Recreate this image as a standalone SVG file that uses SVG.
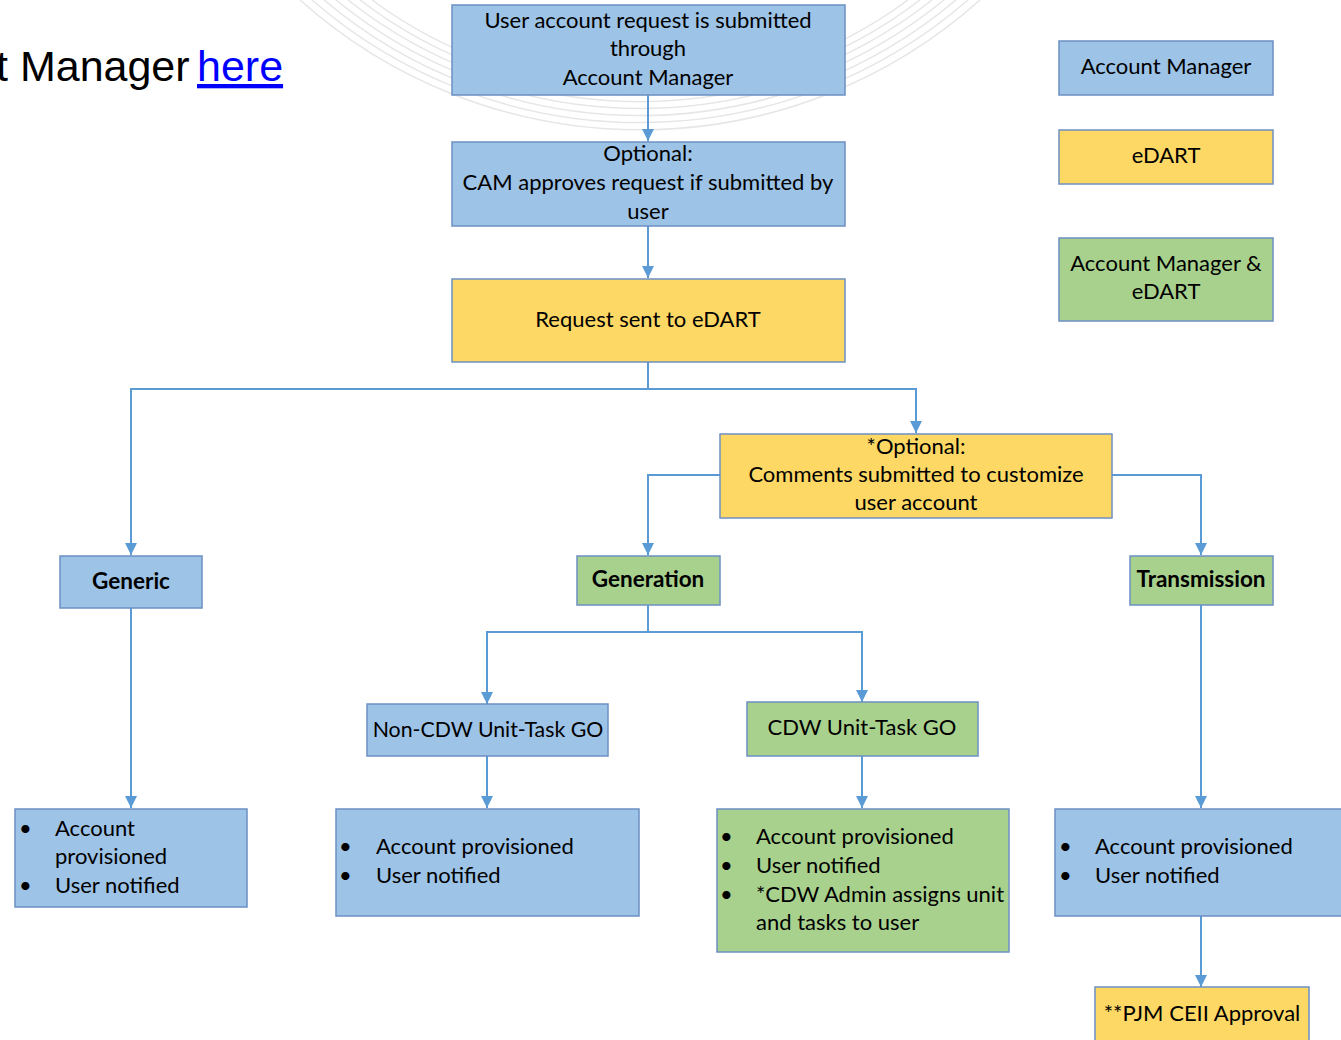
<svg xmlns="http://www.w3.org/2000/svg" width="1341" height="1040" viewBox="0 0 1341 1040">
<defs>
<style>
.b{fill:#9DC3E6;stroke:#6C90C4;stroke-width:1.5}
.y{fill:#FDD865;stroke:#6C90C4;stroke-width:1.5}
.g{fill:#A9D18E;stroke:#6C90C4;stroke-width:1.5}
text{font-family:Lato,"Open Sans","Liberation Sans",sans-serif;font-size:22px;fill:#000}
.c{text-anchor:middle}
.bold{font-weight:bold;font-size:22.5px}
.ln{fill:none;stroke:#5B9BD5;stroke-width:2;marker-end:url(#ah)}
.arc{fill:none;stroke:#e6e6e6;stroke-width:1.5}
.title{font-family:'Liberation Sans',Arial,sans-serif;font-size:43px}
</style>
<marker id="ah" viewBox="0 0 10 10" refX="10" refY="5" markerWidth="6" markerHeight="6" orient="auto" markerUnits="strokeWidth">
<path d="M0,0 L10,5 L0,10 z" fill="#5B9BD5"/>
</marker>
</defs>
<rect width="1341" height="1040" fill="#fff"/>
<g id="background">
<path class="arc" d="M300,0 A510,510 0 0 0 980,0"/>
<path class="arc" d="M312,0 A500,500 0 0 0 968,0"/>
<path class="arc" d="M324,0 A490,490 0 0 0 956,0"/>
<path class="arc" d="M336,0 A480,480 0 0 0 944,0"/>
<path class="arc" d="M348,0 A470,470 0 0 0 932,0"/>
<path class="arc" d="M360,0 A460,460 0 0 0 920,0"/>
<path class="arc" d="M372,0 A450,450 0 0 0 908,0"/>
</g>
<g id="title">
<text class="title" x="-4" y="81">t Manager</text>
<text class="title" x="197" y="81" style="fill:#0000FF;text-decoration:underline">here</text>
</g>
<g id="connectors">
<path class="ln" d="M648,95 V141"/>
<path class="ln" d="M648,226 V278"/>
<path class="ln" d="M648,362 V389 H131 V555"/>
<path class="ln" d="M648,389 H916 V433"/>
<path class="ln" d="M720,475 H648 V555"/>
<path class="ln" d="M1112,475 H1201 V555"/>
<path class="ln" d="M648,605 V632 H487 V704"/>
<path class="ln" d="M648,632 H862 V702"/>
<path class="ln" d="M131,608 V808"/>
<path class="ln" d="M487,756 V808"/>
<path class="ln" d="M862,756 V808"/>
<path class="ln" d="M1201,605 V808"/>
<path class="ln" d="M1201,916 V987"/>
</g>
<g id="n-submit"><rect class="b" x="452" y="5" width="393" height="90"/>
<text class="c" x="648" y="28">User account request is submitted</text>
<text class="c" x="648" y="56">through</text>
<text class="c" x="648" y="85">Account Manager</text></g>
<g id="n-cam"><rect class="b" x="452" y="142" width="393" height="84"/>
<text class="c" x="648" y="161">Optional:</text>
<text class="c" x="648" y="190">CAM approves request if submitted by</text>
<text class="c" x="648" y="219">user</text></g>
<g id="n-edart"><rect class="y" x="452" y="279" width="393" height="83"/>
<text class="c" x="648" y="327">Request sent to eDART</text></g>
<g id="legend-am"><rect class="b" x="1059" y="41" width="214" height="54"/>
<text class="c" x="1166" y="74">Account Manager</text></g>
<g id="legend-edart"><rect class="y" x="1059" y="130" width="214" height="54"/>
<text class="c" x="1166" y="163">eDART</text></g>
<g id="legend-both"><rect class="g" x="1059" y="238" width="214" height="83"/>
<text class="c" x="1166" y="271">Account Manager &amp;</text>
<text class="c" x="1166" y="299">eDART</text></g>
<g id="n-optional"><rect class="y" x="720" y="434" width="392" height="84"/>
<text class="c" x="916" y="454">*Optional:</text>
<text class="c" x="916" y="482">Comments submitted to customize</text>
<text class="c" x="916" y="510">user account</text></g>
<g id="n-generic"><rect class="b" x="60" y="556" width="142" height="52"/>
<text class="c bold" x="131" y="589">Generic</text></g>
<g id="n-generation"><rect class="g" x="577" y="556" width="143" height="49"/>
<text class="c bold" x="648" y="587">Generation</text></g>
<g id="n-transmission"><rect class="g" x="1130" y="556" width="143" height="49"/>
<text class="c bold" x="1201" y="587">Transmission</text></g>
<g id="n-noncdw"><rect class="b" x="367" y="704" width="241" height="52"/>
<text class="c" x="488" y="737" style="font-size:21.3px">Non-CDW Unit-Task GO</text></g>
<g id="n-cdw"><rect class="g" x="747" y="702" width="231" height="54"/>
<text class="c" x="862" y="735">CDW Unit-Task GO</text></g>
<g id="n-generic-out"><rect class="b" x="15" y="809" width="232" height="98"/>
<text x="19" y="836">•</text><text x="55" y="836">Account</text>
<text x="55" y="864">provisioned</text>
<text x="19" y="893">•</text><text x="55" y="893">User notified</text></g>
<g id="n-noncdw-out"><rect class="b" x="336" y="809" width="303" height="107"/>
<text x="339" y="854">•</text><text x="376" y="854">Account provisioned</text>
<text x="339" y="883">•</text><text x="376" y="883">User notified</text></g>
<g id="n-cdw-out"><rect class="g" x="717" y="809" width="292" height="143"/>
<text x="720" y="844">•</text><text x="756" y="844">Account provisioned</text>
<text x="720" y="873">•</text><text x="756" y="873">User notified</text>
<text x="720" y="902">•</text><text x="756" y="902">*CDW Admin assigns unit</text>
<text x="756" y="930">and tasks to user</text></g>
<g id="n-trans-out"><rect class="b" x="1055" y="809" width="292" height="107"/>
<text x="1059" y="854">•</text><text x="1095" y="854">Account provisioned</text>
<text x="1059" y="883">•</text><text x="1095" y="883">User notified</text></g>
<g id="n-pjm"><rect class="y" x="1095" y="987" width="214" height="60"/>
<text class="c" x="1202" y="1021">**PJM CEII Approval</text></g>
</svg>
